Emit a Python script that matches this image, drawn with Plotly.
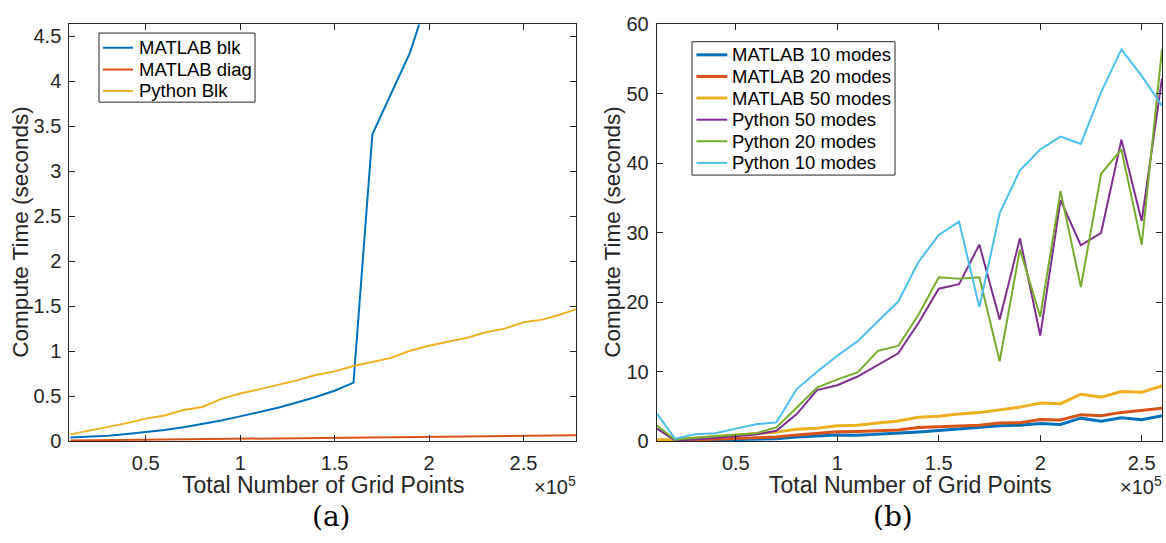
import plotly.graph_objects as go

# ---------------- data ----------------
# Panel (a): x = total number of grid points
x_a = [10000, 20000, 30000, 40000, 50000, 60000, 70000, 80000, 90000, 100000,
       110000, 120000, 130000, 140000, 150000, 160000, 170000, 180000, 190000, 200000,
       210000, 220000, 230000, 240000, 250000, 260000, 270000, 278000]
matlab_blk = [0.04, 0.05, 0.06, 0.08, 0.10, 0.125, 0.155, 0.19, 0.23, 0.275,
              0.32, 0.37, 0.43, 0.49, 0.56, 0.65, 3.41, 3.87, 4.32, 4.97]
matlab_diag = [0.006, 0.008, 0.010, 0.012, 0.014, 0.016, 0.018, 0.020, 0.022, 0.024,
               0.026, 0.029, 0.031, 0.034, 0.036, 0.038, 0.040, 0.042, 0.044, 0.047,
               0.049, 0.051, 0.054, 0.056, 0.058, 0.060, 0.063, 0.066]
python_blk = [0.075, 0.115, 0.155, 0.20, 0.25, 0.285, 0.345, 0.38, 0.47, 0.53,
              0.575, 0.625, 0.675, 0.735, 0.775, 0.835, 0.88, 0.925, 1.005, 1.06,
              1.105, 1.147, 1.21, 1.25, 1.32, 1.35, 1.41, 1.467]

# Panel (b)
x_b = [11000, 20000, 30000, 40000, 50000, 60000, 70000, 80000, 90000, 100000,
       110000, 120000, 130000, 140000, 150000, 160000, 170000, 180000, 190000, 200000,
       210000, 220000, 230000, 240000, 250000, 260000]
matlab_10 = [0.05, 0.02, 0.1, 0.15, 0.25, 0.3, 0.35, 0.6, 0.75, 0.9, 0.85, 1.0, 1.1,
             1.33, 1.52, 1.74, 1.93, 2.2, 2.3, 2.53, 2.39, 3.31, 2.85, 3.35, 3.08, 3.67]
matlab_20 = [0.1, 0.05, 0.2, 0.3, 0.4, 0.5, 0.6, 0.9, 1.15, 1.35, 1.4, 1.5, 1.6,
             1.97, 2.07, 2.2, 2.3, 2.6, 2.65, 3.12, 3.05, 3.81, 3.67, 4.14, 4.46, 4.73]
matlab_50 = [0.2, 0.2, 0.45, 0.65, 0.85, 1.0, 1.3, 1.7, 1.85, 2.2, 2.3, 2.62, 2.89,
             3.44, 3.58, 3.9, 4.13, 4.5, 4.9, 5.5, 5.4, 6.76, 6.34, 7.15, 7.04, 7.95]
python_50 = [1.84, 0.1, 0.25, 0.45, 0.7, 0.95, 1.5, 3.9, 7.36, 8.05, 9.3, 11.0, 12.65,
             17.0, 21.95, 22.6, 28.3, 17.5, 29.2, 15.2, 34.7, 28.2, 30.0, 43.4, 31.7, 52.2]
python_20 = [2.3, 0.2, 0.5, 0.7, 0.9, 1.15, 1.97, 4.8, 7.7, 8.9, 9.9, 13.0, 13.7,
             18.2, 23.6, 23.4, 23.6, 11.5, 27.6, 17.9, 36.0, 22.2, 38.5, 42.0, 28.3, 56.4]
python_10 = [4.0, 0.36, 1.0, 1.15, 1.8, 2.43, 2.7, 7.5, 10.0, 12.3, 14.4, 17.2, 20.1,
             25.8, 29.7, 31.6, 19.3, 32.8, 39.0, 42.0, 43.85, 42.8, 50.25, 56.4, 52.6, 48.3]

names_a = ["MATLAB blk", "MATLAB diag", "Python Blk"]
names_b = ["MATLAB 10 modes", "MATLAB 20 modes", "MATLAB 50 modes",
           "Python 50 modes", "Python 20 modes", "Python 10 modes"]

x_tickvals = [50000, 100000, 150000, 200000, 250000]
x_ticktext = ["0.5", "1", "1.5", "2", "2.5"]
ya_tickvals = [0, 0.5, 1, 1.5, 2, 2.5, 3, 3.5, 4, 4.5]
ya_ticktext = ["0", "0.5", "1", "1.5", "2", "2.5", "3", "3.5", "4", "4.5"]
yb_tickvals = [0, 10, 20, 30, 40, 50, 60]
yb_ticktext = ["0", "10", "20", "30", "40", "50", "60"]

C1, C2, C3 = "#0072BD", "#D95319", "#EDB120"
C4, C5, C6 = "#7E2F8E", "#77AC30", "#4DBEEE"

W, H = 1166, 543
def px(v):
    return v / W
def py(v):
    return 1 - v / H

FONT = "Liberation Sans, Arial, Helvetica, sans-serif"
AX = "#262626"

fig = go.Figure()

# panel (a)
series_a = [(matlab_blk, C1, 2), (matlab_diag, C2, 2), (python_blk, C3, 2)]
for name, (ys, col, w) in zip(names_a, series_a):
    fig.add_trace(go.Scatter(x=x_a[:len(ys)], y=ys, mode="lines", name=name,
                             line=dict(color=col, width=w), xaxis="x", yaxis="y",
                             showlegend=False))

# panel (b)
series_b = [(matlab_10, C1, 3), (matlab_20, C2, 3), (matlab_50, C3, 3),
            (python_50, C4, 2), (python_20, C5, 2), (python_10, C6, 2)]
for name, (ys, col, w) in zip(names_b, series_b):
    fig.add_trace(go.Scatter(x=x_b, y=ys, mode="lines", name=name,
                             line=dict(color=col, width=w), xaxis="x2", yaxis="y2",
                             showlegend=False))

axis_common = dict(ticks="inside", ticklen=6, tickcolor=AX, mirror="ticks", showline=True,
                   linecolor=AX, linewidth=1, showgrid=False, zeroline=False,
                   tickfont=dict(family=FONT, size=20, color=AX))

ydom = [py(448.3), py(14)]
fig.update_layout(
    width=W, height=H, margin=dict(l=0, r=0, t=0, b=0),
    paper_bgcolor="white", plot_bgcolor="white",
    font=dict(family=FONT, color=AX),
    showlegend=False,
    xaxis=dict(domain=[px(69.3), px(576.3)], range=[9500, 278000], anchor="y",
               tickvals=x_tickvals, ticktext=x_ticktext, ticklabelstandoff=4, **axis_common),
    yaxis=dict(domain=ydom, range=[0, 4.63], anchor="x",
               tickvals=ya_tickvals, ticktext=ya_ticktext, ticklabelstandoff=3, **axis_common),
    xaxis2=dict(domain=[px(656.7), px(1162)], range=[11000, 260000], anchor="y2",
                tickvals=x_tickvals, ticktext=x_ticktext, ticklabelstandoff=4, **axis_common),
    yaxis2=dict(domain=ydom, range=[0, 60], anchor="x2",
                tickvals=yb_tickvals, ticktext=yb_ticktext, ticklabelstandoff=3, **axis_common),
)

shapes = []
ann = []

# legend boxes (drawn as shapes + text, matching MATLAB's compact legend)
def legend(box, rows, names, series, x0l, x1l, xt):
    bx0, by0, bx1, by1 = box
    shapes.append(dict(type="rect", xref="paper", yref="paper",
                       x0=px(bx0), x1=px(bx1), y0=py(by1), y1=py(by0),
                       line=dict(color=AX, width=1), fillcolor="white", layer="above"))
    for yy, name, (ys, col, w) in zip(rows, names, series):
        shapes.append(dict(type="line", xref="paper", yref="paper",
                           x0=px(x0l), x1=px(x1l), y0=py(yy), y1=py(yy),
                           line=dict(color=col, width=w), layer="above"))
        ann.append(dict(text=name, x=px(xt), y=py(yy), xref="paper", yref="paper",
                        xanchor="left", yanchor="middle", showarrow=False,
                        font=dict(family=FONT, size=18.5, color="black")))

legend((99, 23, 255, 95), [38.3, 61, 83.3], names_a, series_a, 103, 133, 136.5)
legend((692, 32, 895, 171), [45.7, 68.3, 90.7, 113.3, 135.7, 158.3], names_b, series_b,
       696.4, 727.3, 729.5)

for cx, xr in [(323.5, 576.3), (910.7, 1162)]:
    ann.append(dict(text="Total Number of Grid Points", x=px(cx), y=py(494), xref="paper", yref="paper",
                    xanchor="center", yanchor="middle", showarrow=False,
                    font=dict(family=FONT, size=23, color=AX)))
    ann.append(dict(text="×10<sup>5</sup>", x=px(xr + 2), y=py(495), xref="paper", yref="paper",
                    xanchor="right", yanchor="middle", showarrow=False,
                    font=dict(family=FONT, size=20, color=AX)))
for cx, letter in [(331, "(a)"), (892.5, "(b)")]:
    ann.append(dict(text=letter, x=px(cx), y=py(527), xref="paper", yref="paper",
                    xanchor="center", yanchor="middle", showarrow=False,
                    font=dict(family="DejaVu Serif, serif", size=28, color="black")))
for cx in [21, 613]:
    ann.append(dict(text="Compute Time (seconds)", x=px(cx), y=py(231), xref="paper", yref="paper",
                    xanchor="center", yanchor="middle", showarrow=False, textangle=-90,
                    font=dict(family=FONT, size=22.5, color=AX)))
fig.update_layout(annotations=ann, shapes=shapes)

fig.write_html("out.html")
